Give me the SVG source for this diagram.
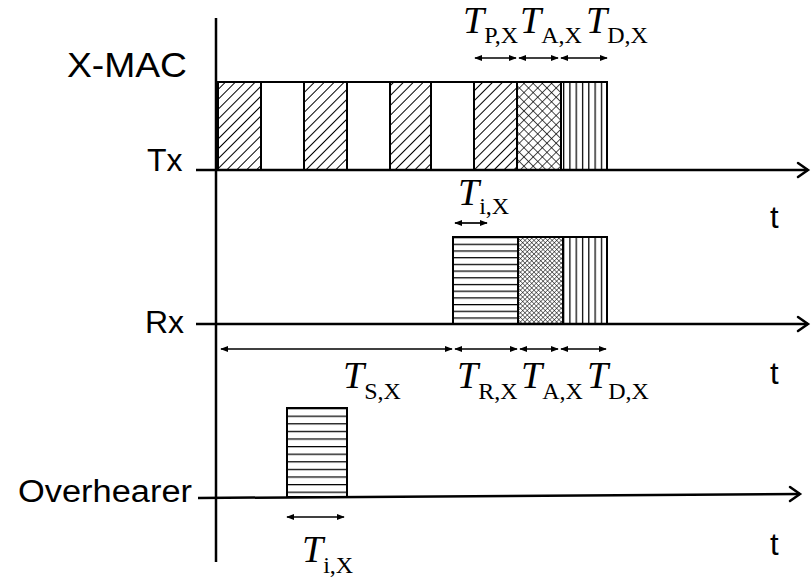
<svg xmlns="http://www.w3.org/2000/svg" width="811" height="582" viewBox="0 0 811 582">
<style>
.axis{stroke:#000;stroke-width:2.5;fill:none}
.head{stroke:#000;stroke-width:2.5;fill:none;stroke-linecap:round;stroke-linejoin:miter}
.box{stroke:#000;stroke-width:2}
.dim{stroke:#000;stroke-width:1.7;fill:none;marker-start:url(#dh);marker-end:url(#dh)}
.lab{font-family:"Liberation Sans",Arial,sans-serif;fill:#000}
.tl{font-family:"Liberation Serif","Times New Roman",serif;fill:#000}
.tt{font-style:italic;font-size:38px}
.ts{font-style:normal;font-size:24px}
</style>
<defs>
<marker id="dh" viewBox="0 0 10 10" refX="9" refY="5" markerWidth="8" markerHeight="8" orient="auto-start-reverse" markerUnits="userSpaceOnUse">
<path d="M0,1 L10,5 L0,9 Z" fill="#000"/>
</marker>
<pattern id="diag" width="7" height="7" patternUnits="userSpaceOnUse" patternTransform="rotate(45)">
<rect width="7" height="7" fill="#fff"/>
<line x1="0" y1="0" x2="0" y2="7" stroke="#000" stroke-width="2"/>
</pattern>
<pattern id="cross" width="6.5" height="6.5" patternUnits="userSpaceOnUse" patternTransform="rotate(45)">
<rect width="6.5" height="6.5" fill="#fff"/>
<line x1="0" y1="0" x2="0" y2="6.5" stroke="#000" stroke-width="1.4"/>
<line x1="0" y1="0" x2="6.5" y2="0" stroke="#000" stroke-width="1.4"/>
</pattern>
<pattern id="fine" width="3.2" height="3.2" patternUnits="userSpaceOnUse" patternTransform="rotate(45)">
<rect width="3.2" height="3.2" fill="#fff"/>
<line x1="0" y1="0" x2="0" y2="3.2" stroke="#000" stroke-width="1"/>
<line x1="0" y1="0" x2="3.2" y2="0" stroke="#000" stroke-width="1"/>
</pattern>
<pattern id="vert" width="6.3" height="10" patternUnits="userSpaceOnUse" x="563">
<rect width="6.3" height="10" fill="#fff"/>
<line x1="0.5" y1="0" x2="0.5" y2="10" stroke="#000" stroke-width="1.5"/>
</pattern>
<pattern id="horz" width="10" height="6.7" patternUnits="userSpaceOnUse" y="237">
<rect width="10" height="6.7" fill="#fff"/>
<line x1="0" y1="0.5" x2="10" y2="0.5" stroke="#000" stroke-width="1.5"/>
</pattern>
<pattern id="horz2" width="10" height="7.6" patternUnits="userSpaceOnUse" y="408">
<rect width="10" height="7.6" fill="#fff"/>
<line x1="0" y1="0.5" x2="10" y2="0.5" stroke="#000" stroke-width="1.5"/>
</pattern>
</defs>

<g id="labels">
<text class="lab" x="67" y="77" font-size="35" textLength="120" lengthAdjust="spacingAndGlyphs">X-MAC</text>
<text class="lab" x="147" y="171" font-size="32">Tx</text>
<text class="lab" x="145" y="333" font-size="32">Rx</text>
<text class="lab" x="18" y="502" font-size="31" textLength="174" lengthAdjust="spacingAndGlyphs">Overhearer</text>
<text class="lab" x="770" y="228" font-size="31">t</text>
<text class="lab" x="770" y="384" font-size="31">t</text>
<text class="lab" x="770" y="555" font-size="31">t</text>
</g>

<g id="tx-node">
<rect x="218" y="82" width="389" height="88" fill="#fff" class="box"/>
<rect x="218" y="82" width="43" height="88" fill="url(#diag)" class="box"/>
<rect x="304" y="82" width="43" height="88" fill="url(#diag)" class="box"/>
<rect x="390" y="82" width="41" height="88" fill="url(#diag)" class="box"/>
<rect x="474" y="82" width="43" height="88" fill="url(#diag)" class="box"/>
<rect x="517" y="82" width="44" height="88" fill="url(#cross)" class="box"/>
<rect x="561" y="82" width="46" height="88" fill="url(#vert)" class="box"/>
</g>

<g id="rx-node">
<rect x="453" y="237" width="65" height="87" fill="url(#horz)" class="box"/>
<rect x="518" y="237" width="45" height="87" fill="url(#fine)" class="box"/>
<rect x="563" y="237" width="44" height="87" fill="url(#vert)" class="box"/>
</g>

<g id="overhearer-node">
<rect x="287" y="408" width="60" height="89" fill="url(#horz2)" class="box"/>
</g>

<g id="connectors">
<line class="axis" x1="216" y1="18" x2="216" y2="562"/>
<line class="axis" x1="196" y1="170" x2="808" y2="170"/>
<path class="head" d="M798,163 L808,170 L798,177"/>
<line class="axis" x1="196" y1="324" x2="808" y2="324"/>
<path class="head" d="M798,317 L808,324 L798,331"/>
<line class="axis" x1="198" y1="498" x2="800" y2="494"/>
<path class="head" d="M790,487 L800,494 L790,501"/>
<line class="dim" x1="475" y1="58" x2="516" y2="58"/>
<line class="dim" x1="519" y1="58" x2="558" y2="58"/>
<line class="dim" x1="561" y1="58" x2="607" y2="58"/>
<line class="dim" x1="455" y1="223" x2="487" y2="223"/>
<line class="dim" x1="221" y1="349" x2="452" y2="349"/>
<line class="dim" x1="455" y1="349" x2="517" y2="349"/>
<line class="dim" x1="520" y1="349" x2="558" y2="349"/>
<line class="dim" x1="561" y1="349" x2="606" y2="349"/>
<line class="dim" x1="287" y1="517" x2="344" y2="517"/>
</g>

<g id="time-labels">
<text class="tl" x="463" y="33"><tspan class="tt">T</tspan><tspan class="ts" dy="10">P,X</tspan></text>
<text class="tl" x="520" y="33"><tspan class="tt">T</tspan><tspan class="ts" dy="10">A,X</tspan></text>
<text class="tl" x="586" y="33"><tspan class="tt">T</tspan><tspan class="ts" dy="10">D,X</tspan></text>
<text class="tl" x="458" y="205"><tspan class="tt">T</tspan><tspan class="ts" dy="9">i,X</tspan></text>
<text class="tl" x="343" y="388"><tspan class="tt">T</tspan><tspan class="ts" dy="11">S,X</tspan></text>
<text class="tl" x="457" y="388"><tspan class="tt">T</tspan><tspan class="ts" dy="11">R,X</tspan></text>
<text class="tl" x="521" y="388"><tspan class="tt">T</tspan><tspan class="ts" dy="11">A,X</tspan></text>
<text class="tl" x="587" y="388"><tspan class="tt">T</tspan><tspan class="ts" dy="11">D,X</tspan></text>
<text class="tl" x="302" y="562"><tspan class="tt">T</tspan><tspan class="ts" dy="11">i,X</tspan></text>
</g>
</svg>
